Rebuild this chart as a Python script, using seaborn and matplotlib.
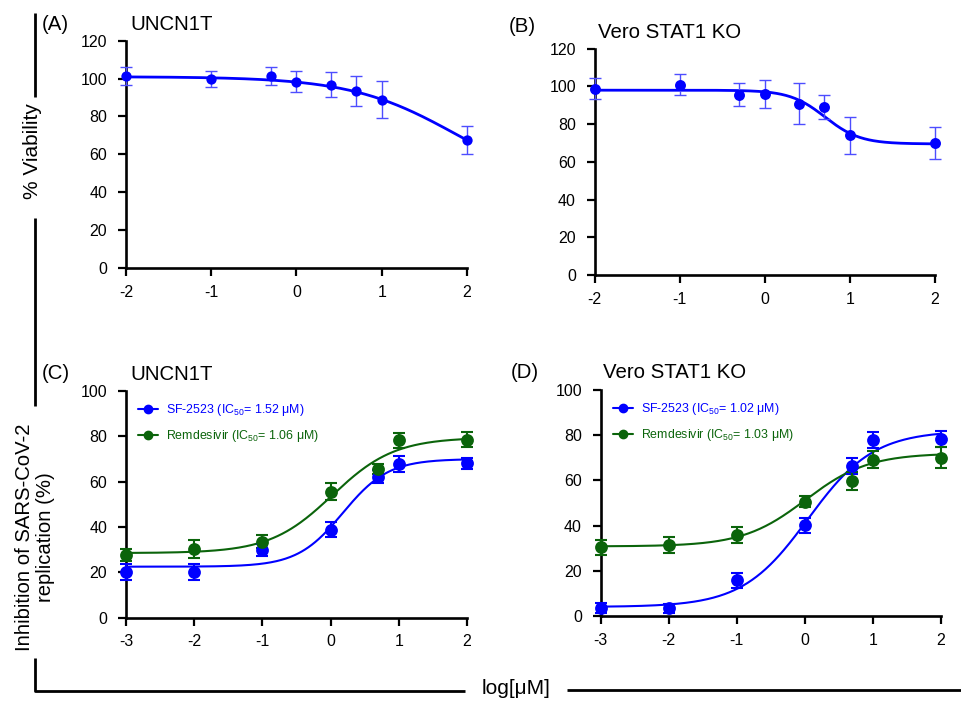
import numpy as np
import pandas as pd
import matplotlib
matplotlib.use("Agg")
import matplotlib.pyplot as plt
from matplotlib.lines import Line2D
import seaborn as sns

# ---------------- data ----------------
# Panel A: UNCN1T viability
a_x = [-2, -1, -0.3, 0, 0.4, 0.7, 1, 2]
a_y = [101.4, 99.8, 101.5, 98.4, 96.8, 93.5, 88.9, 67.6]
a_err = [4.6, 4.4, 4.7, 5.7, 6.7, 7.8, 9.8, 7.5]
a_fit = [101.0, 40.0, 1.877, 0.697]      # left plateau, right plateau, logIC50, hill

# Panel B: Vero STAT1 KO viability
b_x = [-2, -1, -0.3, 0, 0.4, 0.7, 1, 2]
b_y = [98.8, 100.9, 95.6, 95.8, 90.8, 89.2, 74.1, 70.0]
b_err = [5.6, 5.7, 6.1, 7.5, 10.9, 6.5, 9.7, 8.3]
b_fit = [98.0, 69.5, 0.708, 2.1]

# Panel C: UNCN1T inhibition
c_x = [-3, -2, -1, 0, 0.7, 1, 2]
c_sf = [20.0, 20.3, 29.9, 38.8, 62.2, 67.8, 68.1]
c_sf_err = [3.5, 3.5, 2.8, 3.3, 2.8, 3.5, 2.5]
c_rem = [27.8, 30.4, 33.5, 55.6, 65.6, 78.2, 78.5]
c_rem_err = [2.7, 4.0, 2.8, 3.8, 2.2, 3.4, 3.2]
c_sf_fit = [22.5, 70.0, 0.18, 1.3]
c_rem_fit = [28.5, 79.5, 0.025, 0.95]

# Panel D: Vero STAT1 KO inhibition
d_x = [-3, -2, -1, 0, 0.7, 1, 2]
d_sf = [3.4, 3.4, 15.8, 40.1, 66.4, 77.9, 78.3]
d_sf_err = [2.2, 2.0, 3.4, 3.4, 3.6, 3.5, 3.5]
d_rem = [30.4, 31.4, 35.8, 50.6, 59.7, 69.2, 70.1]
d_rem_err = [3.3, 3.4, 3.4, 2.4, 3.8, 3.7, 4.6]
d_sf_fit = [4.0, 82.0, 0.05, 0.9]
d_rem_fit = [30.8, 72.0, 0.013, 0.94]

labels_c = ["SF-2523 (IC$_{50}$= 1.52 μM)", "Remdesivir (IC$_{50}$= 1.06 μM)"]
labels_d = ["SF-2523 (IC$_{50}$= 1.02 μM)", "Remdesivir (IC$_{50}$= 1.03 μM)"]

BLUE = "#0000ff"
GREEN = "#0b640b"

# ---------------- style ----------------
sns.set_theme(style="ticks")
plt.rcParams["font.family"] = ["Liberation Sans", "DejaVu Sans"]
plt.rcParams["mathtext.fontset"] = "custom"
plt.rcParams["mathtext.rm"] = "Liberation Sans"
plt.rcParams["mathtext.it"] = "Liberation Sans"
plt.rcParams["mathtext.bf"] = "Liberation Sans:bold"
plt.rcParams["mathtext.default"] = "rm"
for k in ["text.color", "axes.labelcolor", "xtick.color", "ytick.color", "axes.edgecolor"]:
    plt.rcParams[k] = "black"


def logistic(x, p):
    lo, hi, c, h = p
    return lo + (hi - lo) / (1 + 10 ** ((c - x) * h))


fig = plt.figure(figsize=(9.62, 7.02), dpi=100)

W = 962.0
H = 702.0


def add_ax(left, right, bottom, top):
    return fig.add_axes([left / W, 1 - bottom / H, (right - left) / W, (bottom - top) / H])


axA = add_ax(126, 467, 268, 40.7)
axB = add_ax(594.7, 935, 275, 48.7)
axC = add_ax(126, 467, 617.7, 391)
axD = add_ax(600.7, 940.7, 616, 390)


def style_ax(ax, xlim, ylim, yticks, xticks):
    ax.set_xlim(*xlim)
    ax.set_ylim(*ylim)
    ax.set_xticks(xticks)
    ax.set_xticklabels([str(t) for t in xticks])
    ax.set_yticks(yticks)
    ax.set_yticklabels([str(t) for t in yticks])
    for s in ["top", "right"]:
        ax.spines[s].set_visible(False)
    for s in ["left", "bottom"]:
        ax.spines[s].set_linewidth(1.9)
        ax.spines[s].set_color("black")
    ax.tick_params(axis="both", direction="out", length=5.5, width=1.6, colors="black",
                   labelcolor="black", labelsize=11.5)
    ax.tick_params(axis="y", pad=8)
    ax.tick_params(axis="x", pad=6.5)
    ax.set_xlabel("")
    ax.set_ylabel("")
    ax.set_facecolor("white")


def draw_series(ax, xs, ys, errs, fit, color, xr, msize, elw, capsize, ecolor, lw):
    xx = np.linspace(xr[0], xr[1], 300)
    curve = pd.DataFrame({"x": xx, "y": logistic(xx, fit)})
    sns.lineplot(data=curve, x="x", y="y", ax=ax, color=color, lw=lw, zorder=3, clip_on=False)
    pts = pd.DataFrame({"x": xs, "y": ys, "e": errs})
    ax.errorbar(pts["x"], pts["y"], yerr=pts["e"], fmt="none", ecolor=ecolor,
                elinewidth=elw, capsize=capsize, capthick=elw, zorder=4, clip_on=False)
    sns.scatterplot(data=pts, x="x", y="y", ax=ax, color=color, s=msize, edgecolor=color,
                    linewidth=0, zorder=5, clip_on=False, legend=False)


# Panel A
draw_series(axA, a_x, a_y, a_err, a_fit, BLUE, (-2, 2), 55, 1.0, 4, "#4d4dff", 2.0)
style_ax(axA, (-2, 2), (0, 120), list(range(0, 121, 20)), [-2, -1, 0, 1, 2])
# Panel B
draw_series(axB, b_x, b_y, b_err, b_fit, BLUE, (-2, 2), 62, 1.0, 4, "#4d4dff", 2.0)
style_ax(axB, (-2, 2), (0, 120), list(range(0, 121, 20)), [-2, -1, 0, 1, 2])
# Panel C
draw_series(axC, c_x, c_sf, c_sf_err, c_sf_fit, BLUE, (-3, 2), 85, 1.5, 4.5, BLUE, 1.5)
draw_series(axC, c_x, c_rem, c_rem_err, c_rem_fit, GREEN, (-3, 2), 85, 1.5, 4.5, GREEN, 1.5)
style_ax(axC, (-3, 2), (0, 100), list(range(0, 101, 20)), [-3, -2, -1, 0, 1, 2])
# Panel D
draw_series(axD, d_x, d_sf, d_sf_err, d_sf_fit, BLUE, (-3, 2), 85, 1.5, 4.5, BLUE, 1.5)
draw_series(axD, d_x, d_rem, d_rem_err, d_rem_fit, GREEN, (-3, 2), 85, 1.5, 4.5, GREEN, 1.5)
style_ax(axD, (-3, 2), (0, 100), list(range(0, 101, 20)), [-3, -2, -1, 0, 1, 2])


def add_legend(ax, labels):
    handles = [Line2D([0], [0], color=BLUE, lw=1.5, marker="o", markersize=6),
               Line2D([0], [0], color=GREEN, lw=1.5, marker="o", markersize=6)]
    leg = ax.legend(handles, labels, loc="upper left", bbox_to_anchor=(0.01, 0.99),
                    frameon=False, fontsize=8.9, handlelength=1.6, handletextpad=0.7,
                    labelspacing=0.85, borderaxespad=0.3)
    for t, c in zip(leg.get_texts(), [BLUE, GREEN]):
        t.set_color(c)


add_legend(axC, labels_c)
add_legend(axD, labels_d)

# Panel labels and titles
def ftext(x, y, s, **kw):
    fig.text(x / W, 1 - y / H, s, **kw)

ftext(42, 25, "(A)", fontsize=14.7, va="center", ha="left")
ftext(130, 25, "UNCN1T", fontsize=14.7, va="center", ha="left")
ftext(509, 27, "(B)", fontsize=14.7, va="center", ha="left")
ftext(598, 33, "Vero STAT1 KO", fontsize=14.7, va="center", ha="left")
ftext(42, 374, "(C)", fontsize=14.7, va="center", ha="left")
ftext(130, 375, "UNCN1T", fontsize=14.7, va="center", ha="left")
ftext(511, 372, "(D)", fontsize=14.7, va="center", ha="left")
ftext(603, 372, "Vero STAT1 KO", fontsize=14.7, va="center", ha="left")

# Group axis labels
ftext(33, 151, "% Viability", fontsize=15, va="center", ha="center", rotation=90)
ftext(35, 537, "Inhibition of SARS-CoV-2\nreplication (%)", fontsize=14.6, va="center",
      ha="center", rotation=90, linespacing=1.15)
ftext(516, 689, "log[μM]", fontsize=15, va="center", ha="center")

# Bracket lines
def fline(xs, ys):
    fig.add_artist(Line2D([x / W for x in xs], [1 - y / H for y in ys], color="black",
                          lw=2.0, solid_capstyle="butt"))

fline([34.5, 34.5], [13, 97])
fline([34.5, 34.5], [218, 406])
fline([34.5, 34.5, 465], [658, 691, 691])
fline([567, 962], [690, 690])

fig.savefig("out.png", dpi=100, facecolor="white")
